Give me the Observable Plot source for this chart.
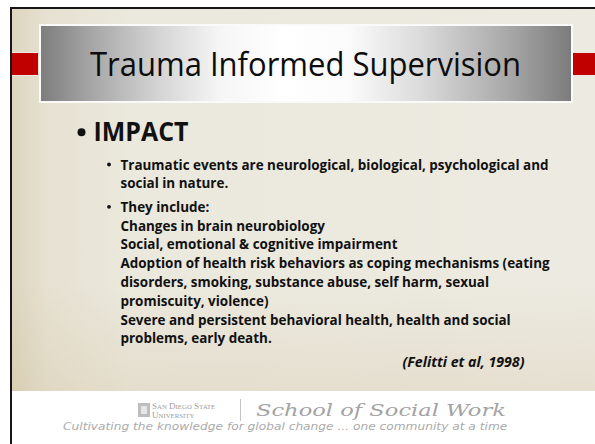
<!DOCTYPE html>
<html><head><meta charset="utf-8">
<script src="https://cdn.jsdelivr.net/npm/d3@7"></script>
<script src="https://cdn.jsdelivr.net/npm/@observablehq/plot@0.6"></script>
<style>
html,body{margin:0;padding:0;background:#fff;}
#slide{position:relative;width:595px;height:444px;overflow:hidden;background:#fff;font-family:"Open Sans",sans-serif;}
.frame{position:absolute;left:10px;top:7px;right:0;bottom:0;border-left:2px solid #161616;border-top:2px solid #161616;}
.beige{position:absolute;left:12px;top:9px;right:0;height:382px;
  background:linear-gradient(to bottom,rgba(0,0,0,0) 72%,rgba(190,170,120,0.16) 100%),
  linear-gradient(to right,#ddd5bf 0%,#e6e1d1 6%,#ebe8dd 20%,#edeae1 100%);}
.red{position:absolute;top:52px;height:22px;background:#c00000;border-top:1px solid #f3e6e6;border-bottom:1px solid #f3e6e6;}
.titlebox{position:absolute;left:39px;top:24px;width:530px;height:75px;border:2px solid #fafafa;
  background:linear-gradient(to right,#7e7e7e 0%,#a8a8a8 10%,#d4d4d4 22%,#f6f6f6 34%,#ffffff 46%,#fbfbfb 58%,#dadada 72%,#a9a9a9 88%,#7c7c7c 100%);}
#chart{position:absolute;left:0;top:0;}
.ft{position:absolute;white-space:nowrap;transform-origin:0 0;}
.sdsu{left:152px;top:402px;font-family:"Liberation Serif",serif;color:#9c9c9c;font-size:9px;line-height:8px;}
.sdsu .s{font-size:6.8px;}
.icon{position:absolute;left:138px;top:403px;width:12px;height:14px;background:#bdbdbd;}
.icon:after{content:"";position:absolute;left:3px;top:3px;width:6px;height:8px;background:#e6e6e6;}
.sep{position:absolute;left:240px;top:399px;width:1px;height:22px;background:#c4c4c4;}
.school{left:256px;top:401.95px;font-family:"DejaVu Serif",serif;font-style:italic;font-size:17.5px;line-height:16px;color:#a3a3a3;transform:scaleX(1.29);}
.tag{left:63px;top:421.5px;font-family:"DejaVu Sans",sans-serif;font-style:italic;font-size:10px;line-height:9px;color:#ababab;transform:scaleX(1.22);}
</style></head>
<body>
<div id="slide">
  <div class="frame"></div>
  <div class="beige"></div>
  <div class="red" style="left:12px;width:26px;"></div>
  <div class="red" style="left:573px;width:22px;"></div>
  <div class="titlebox"></div>
  <div id="chart"></div>
  <div class="icon"></div>
  <div class="ft sdsu">S<span class="s">AN</span> D<span class="s">IEGO</span> S<span class="s">TATE</span><br>U<span class="s">NIVERSITY</span></div>
  <div class="sep"></div>
  <div class="ft school" id="school">School of Social Work</div>
  <div class="ft tag" id="tag">Cultivating the knowledge for global change ... one community at a time</div>
</div>
<script>
// ---- content ----
const slideTitle = ["Trauma Informed Supervision"];
const heading = ["IMPACT"];
const bulletParagraphs = [
  ["Traumatic events are neurological, biological, psychological and",
   "social in nature."],
  ["They include:",
   "Changes in brain neurobiology",
   "Social, emotional & cognitive impairment",
   "Adoption of health risk behaviors as coping mechanisms (eating",
   "disorders, smoking, substance abuse, self harm, sexual",
   "promiscuity, violence)",
   "Severe and persistent behavioral health, health and social",
   "problems, early death."]
];
const citation = ["(Felitti et al, 1998)"];

// ---- layout derived from the structure ----
const paragraphGap = 0.25;
const titleRow = -5, headingRow = -1.5, citationGap = 1.25;
const bodyRows = [];
const subBullets = [];
let r = 0;
bulletParagraphs.forEach((para, p) => {
  if (p > 0) r += paragraphGap;
  subBullets.push({row: r, level: 1});
  para.forEach(text => { bodyRows.push({text, row: r, level: 1}); r += 1; });
});
const citationRow = r - 1 + citationGap;
const headBullet = [{row: headingRow, level: 0}];

const ink = "#111";
const svg = Plot.plot({
  width: 595, height: 391,
  marginTop: 0, marginBottom: 0, marginLeft: 15, marginRight: 0,
  x: {domain: [0, 1], range: [93, 120], axis: null},
  y: {domain: [0, 1], range: [169, 187.8], axis: null},
  style: {background: "transparent", overflow: "visible"},
  marks: [
    Plot.text(slideTitle, {text: d => d, y: () => titleRow, frameAnchor: "middle", lineAnchor: "bottom",
      fontSize: 32, fontFamily: "Open Sans", fill: "#0d0d0d"}),
    Plot.text(heading, {text: d => d, x: () => 0, y: () => headingRow, textAnchor: "start", lineAnchor: "bottom",
      fontSize: 26, fontWeight: 700, fontFamily: "Open Sans", fill: ink}),
    Plot.dot(headBullet, {x: "level", y: "row", r: 4, dx: -12, dy: -9, fill: ink, stroke: null}),
    Plot.dot(subBullets, {x: "level", y: "row", r: 1.9, dx: -11.5, dy: -5, fill: ink, stroke: null}),
    Plot.text(bodyRows, {text: "text", x: "level", y: "row", textAnchor: "start", lineAnchor: "bottom",
      fontSize: 13.4, fontWeight: 700, fontFamily: "Open Sans", fill: ink}),
    Plot.text(citation, {text: d => d, y: () => citationRow, frameAnchor: "right", textAnchor: "end", dx: -71,
      lineAnchor: "bottom", fontSize: 13.4, fontWeight: 700, fontStyle: "italic", fontFamily: "Open Sans", fill: ink})
  ]
});
document.getElementById("chart").appendChild(svg);

// condense the fallback face to the reference's line lengths
const groups = svg.querySelectorAll('g[aria-label="text"]');
function fit(group, target) {
  if (!group) return;
  group.querySelectorAll("text").forEach(t => { t.setAttribute("textLength", target); t.setAttribute("lengthAdjust", "spacingAndGlyphs"); });
}
fit(groups[0], 431);
fit(groups[1], 95);
fit(groups[3], 122);
if (groups[2]) {
  const bodyTexts = Array.from(groups[2].querySelectorAll("text"));
  const k = 428 / bodyTexts[0].getComputedTextLength();
  bodyTexts.forEach(t => { const w = t.getComputedTextLength(); t.setAttribute("textLength", w * k); t.setAttribute("lengthAdjust", "spacingAndGlyphs"); });
}
</script>
</body></html>
